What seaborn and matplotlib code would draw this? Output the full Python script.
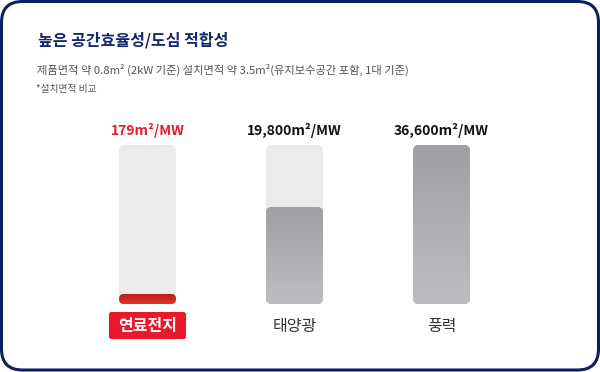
import numpy as np
import pandas as pd
import matplotlib
matplotlib.use("Agg")
import matplotlib.pyplot as plt
import seaborn as sns
from matplotlib.patches import FancyBboxPatch
from matplotlib.colors import LinearSegmentedColormap

# ---- data ----
categories = ["연료전지", "태양광", "풍력"]
value_labels = ["179m²/MW", "19,800m²/MW", "36,600m²/MW"]
bar_heights = [6.3, 61, 100]          # relative bar fill (%)
full_heights = [100, 100, 100]

title = "높은 공간효율성/도심 적합성"
subtitle = "제품면적 약 0.8m² (2kW 기준) 설치면적 약 3.5m²(유지보수공간 포함, 1대 기준)"
note = "*설치면적 비교"

sns.set_theme(style="white")
plt.rcParams["font.family"] = ["Noto Sans CJK KR", "DejaVu Sans"]

W, H = 600, 372
fig = plt.figure(figsize=(W / 100, H / 100), dpi=100)
ax = fig.add_axes([0, 0, 1, 1])

df = pd.DataFrame({"cat": categories, "val": bar_heights, "full": full_heights})

px_per_x = 147.0
x0_px = 147.5
y0_px = 304.0
px_per_y = (304.0 - 145.0) / 100.0
bw = 57.0 / px_per_x

sns.barplot(data=df, x="cat", y="full", ax=ax, color="#ebebeb", width=bw,
            saturation=1, order=categories)
sns.barplot(data=df, x="cat", y="val", ax=ax, color="#a5a6aa", width=bw,
            saturation=1, order=categories)

ax.set_axis_off()

r_px = 6.0
mut_aspect = (1 / px_per_y) / (1 / px_per_x)
gray_cmap = LinearSegmentedColormap.from_list("g", ["#bdbec2", "#9fa0a4"])
red_cmap = LinearSegmentedColormap.from_list("r", ["#e8332a", "#b51a17"])
patches = list(ax.patches)
n = len(categories)
for k, p in enumerate(patches):
    x, y = p.get_x(), p.get_y()
    w, h = p.get_width(), p.get_height()
    fc = p.get_facecolor()
    p.remove()
    is_value = k >= n
    idx = k % n
    rr = r_px
    if is_value and idx == 0:
        rr = min(r_px, h * px_per_y / 2)
    rb = FancyBboxPatch((x, y), w, h,
                        boxstyle=f"round,pad=0,rounding_size={rr / px_per_x}",
                        mutation_aspect=mut_aspect, facecolor=fc,
                        edgecolor="none", zorder=2 + is_value)
    ax.add_patch(rb)
    if is_value:
        cmap = red_cmap if idx == 0 else gray_cmap
        grad = np.linspace(0, 1, 100).reshape(-1, 1)
        im = ax.imshow(grad, extent=(x, x + w, y, y + h), origin="lower",
                       cmap=cmap, aspect="auto", zorder=4)
        im.set_clip_path(rb)

ax.set_xlim(-x0_px / px_per_x, (W - x0_px) / px_per_x)
ax.set_ylim(-(H - y0_px) / px_per_y, y0_px / px_per_y)


def fx(px):
    return px / W


def fy(py):
    return 1 - py / H


frame = FancyBboxPatch((fx(1.5), fy(370)), fx(597), 368.5 / H,
                       boxstyle="round,pad=0,rounding_size=0.035",
                       mutation_aspect=W / H,
                       transform=fig.transFigure, facecolor="none",
                       edgecolor="#0d1f5f", linewidth=2.2, zorder=10)
fig.patches.append(frame)

fig.text(fx(38), fy(40), title, fontsize=11.5, fontweight="bold",
         color="#13296b", va="center", ha="left")
fig.text(fx(37), fy(70), subtitle, fontsize=8.1, color="#555555",
         va="center", ha="left")
fig.text(fx(36), fy(89), note, fontsize=7, color="#555555",
         va="center", ha="left")

for i, (lab, cat) in enumerate(zip(value_labels, categories)):
    cx = x0_px + px_per_x * i
    fig.text(fx(cx), fy(130), lab, fontsize=10, fontweight="bold",
             color="#e8192c" if i == 0 else "#111111",
             va="center", ha="center")
    if i == 0:
        box = FancyBboxPatch((fx(109), fy(339)), fx(77), 27 / H,
                             boxstyle="round,pad=0,rounding_size=0.004",
                             mutation_aspect=W / H,
                             transform=fig.transFigure, facecolor="#e8192c",
                             edgecolor="none", zorder=5)
        fig.patches.append(box)
        fig.text(fx(cx), fy(326), cat, fontsize=11.5, fontweight="bold",
                 color="white", va="center", ha="center", zorder=6)
    else:
        fig.text(fx(cx), fy(326), cat, fontsize=11.5, color="#333333",
                 va="center", ha="center")

fig.savefig("out.png", dpi=100, facecolor="white")
